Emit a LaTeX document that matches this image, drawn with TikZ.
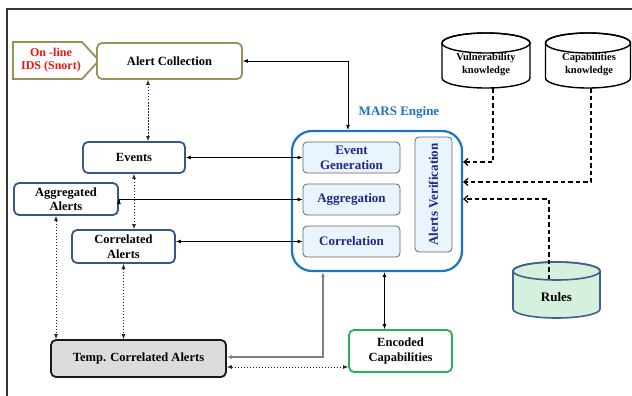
\documentclass[tikz,border=0pt]{standalone}
\usepackage{fontspec}
\setmainfont{Liberation Serif}
\usetikzlibrary{arrows.meta}
\definecolor{olive}{RGB}{155,143,92}
\definecolor{bluebox}{RGB}{52,88,140}
\definecolor{marsblue}{RGB}{28,117,196}
\definecolor{inblue}{RGB}{234,244,252}
\definecolor{navytxt}{RGB}{32,38,140}
\definecolor{encgreen}{RGB}{38,180,80}
\definecolor{rulesfill}{RGB}{214,240,222}
\definecolor{rulesline}{RGB}{62,96,140}
\definecolor{tempfill}{RGB}{220,220,220}
\definecolor{idsred}{RGB}{240,20,20}
\tikzset{
  box/.style={draw=bluebox, line width=1.8pt, rounded corners=5pt, fill=white, align=center,
    font=\fontsize{12.5}{14.5}\selectfont\bfseries, inner sep=0pt},
  inbox/.style={draw=black!60, line width=0.8pt, rounded corners=4pt, fill=inblue, text=navytxt,
    align=center, font=\fontsize{13}{15}\selectfont\bfseries, inner sep=0pt},
  cyltext/.style={align=center, font=\fontsize{10.5}{13}\selectfont\bfseries, inner sep=0pt},
  sol/.style={line width=0.8pt, {Latex[length=5pt,width=4pt]}-{Latex[length=5pt,width=4pt]}},
  dotarr/.style={line width=0.8pt, black!85, dash pattern=on 1.5pt off 1.5pt,
    {Latex[length=5pt,width=4pt]}-{Latex[length=5pt,width=4pt]}},
  dasharr/.style={line width=1.2pt, dash pattern=on 4.5pt off 3pt,
    -{Straight Barb[length=4pt,width=7pt]}},
}
\begin{document}
\begin{tikzpicture}[x=1pt,y=-1pt]
\useasboundingbox (0,0) rectangle (632,396);
\fill[white] (0,0) rectangle (632,396);
% frame
\draw[line width=1.5pt, black!80] (7,396) -- (7,9) -- (632,9);

% IDS pentagon
\draw[olive, line width=1.8pt, fill=white] (13,42) -- (82,42) -- (99,60.5) -- (82,79) -- (13,79) -- cycle;
\node[text=idsred, align=center, font=\fontsize{12}{13.5}\selectfont\bfseries] (ids) at (51,60) {On -line\\IDS (Snort)};
\node[box, draw=olive, minimum width=145pt, minimum height=36pt] (ac) at (169.5,61) {Alert Collection};

% left boxes
\node[box, minimum width=102pt, minimum height=31pt] (ev) at (134,157.5) {Events};
\node[box, minimum width=104pt, minimum height=32pt] (agg) at (66,199) {Aggregated\\Alerts};
\node[box, minimum width=103pt, minimum height=33pt] (cor) at (123.5,246.5) {Correlated\\Alerts};
\node[box, draw=black!90, fill=tempfill, minimum width=175pt, minimum height=37pt] (tca) at (138.5,358.5) {Temp. Correlated Alerts};
\node[box, draw=encgreen, minimum width=103pt, minimum height=42pt] (enc) at (400.5,351) {Encoded\\Capabilities};

% MARS engine
\node[draw=marsblue, line width=2.2pt, rounded corners=20pt, fill=white, minimum width=170pt, minimum height=140pt, inner sep=0pt] (mars) at (377,201) {};
\node[text=marsblue, font=\fontsize{13}{15}\selectfont\bfseries] (marslbl) at (399,112) {MARS Engine};
\node[inbox, minimum width=97pt, minimum height=31pt] (eg) at (351.5,157.5) {Event\\Generation};
\node[inbox, minimum width=97pt, minimum height=31pt] (aggr) at (351.5,199.5) {Aggregation};
\node[inbox, minimum width=97pt, minimum height=31pt] (corr) at (351.5,241.5) {Correlation};
\node[inbox, rotate=90, minimum width=115pt, minimum height=37pt] (av) at (433.5,194.5) {Alerts Verification};

% cylinders
\path[fill=white, draw=black, line width=1.4pt] (442,43) -- (442,78)
  arc[start angle=180,end angle=360,x radius=44pt,y radius=10pt] -- (530,43)
  arc[start angle=0,end angle=180,x radius=44pt,y radius=10pt] -- cycle;
\draw[line width=1.4pt] (486,43) ellipse[x radius=44pt,y radius=10pt];
\node[cyltext] (vul) at (486,65) {Vulnerability\\knowledge};
\coordinate (vulb) at (493,88);

\path[fill=white, draw=black, line width=1.4pt] (545.5,43) -- (545.5,78)
  arc[start angle=180,end angle=360,x radius=42.5pt,y radius=10pt] -- (630.5,43)
  arc[start angle=0,end angle=180,x radius=42.5pt,y radius=10pt] -- cycle;
\draw[line width=1.4pt] (588,43) ellipse[x radius=42.5pt,y radius=10pt];
\node[cyltext] (cap) at (589,65) {Capabilities\\knowledge};
\coordinate (capb) at (591,88);

\path[fill=rulesfill, draw=rulesline, line width=1.6pt] (513,271) -- (513,309)
  arc[start angle=180,end angle=360,x radius=43.5pt,y radius=9pt] -- (600,271)
  arc[start angle=0,end angle=180,x radius=43.5pt,y radius=9pt] -- cycle;
\draw[rulesline, line width=1.6pt] (556.5,271) ellipse[x radius=43.5pt,y radius=9pt];
\node[font=\fontsize{13}{15}\selectfont\bfseries] (rules) at (556.5,297) {Rules};
\coordinate (rulest) at (549,279);

% connectors
\draw[sol] (ac.east) -| ([xshift=-29pt]mars.north);
\draw[dotarr] ([xshift=14pt]ev.north) -- ([xshift=14pt]ev.north |- ac.south);
\draw[sol] (ev.east) -- (eg.west);
\draw[sol] (agg.east) -- (aggr.west -| agg.east) -- (aggr.west);
\draw[sol] (corr.west -| cor.east) -- (corr.west);
\draw[dotarr] (ev.south) -- (ev.south |- cor.north);
\draw[dotarr] ([xshift=-10pt]agg.south) -- ([xshift=-10pt]agg.south |- tca.north);
\draw[dotarr] (cor.south) -- (cor.south |- tca.north);
\draw[line width=1.2pt, black!50, {Latex[length=5pt,width=4pt]}-{Latex[length=5pt,width=4pt]}]
  ([yshift=1.5pt]tca.east) -| ([xshift=-54pt]mars.south);
\draw[dotarr] ([yshift=-8.5pt]tca.east) -- ([yshift=-8.5pt]tca.east -| enc.west);
\draw[sol] ([xshift=-16pt]enc.north) -- ([xshift=-16pt]enc.north |- mars.south);

\draw[dasharr] (vulb) |- (mars.east |- 0,162);
\draw[dasharr] (capb) |- (mars.east |- 0,182);
\draw[dasharr] (rulest) |- (mars.east |- 0,199);
\end{tikzpicture}
\end{document}
